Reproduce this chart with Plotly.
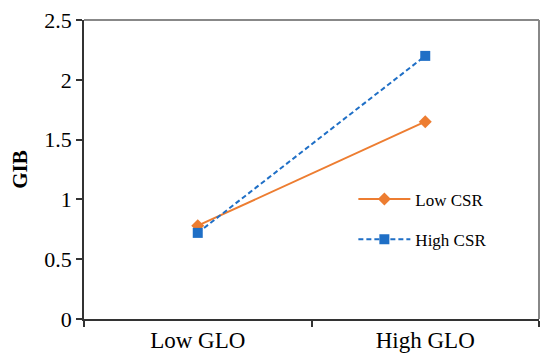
import plotly.graph_objects as go

categories = ["Low GLO", "High GLO"]
low_csr = [0.78, 1.65]
high_csr = [0.72, 2.2]
y_ticks = [0, 0.5, 1, 1.5, 2, 2.5]
y_ticktext = ["0", "0.5", "1", "1.5", "2", "2.5"]

FONT = "'Liberation Serif', 'Times New Roman', serif"
ORANGE = "#ED7D31"
BLUE = "#1F6FC6"

fig = go.Figure()
fig.add_trace(go.Scatter(
    x=categories, y=low_csr, name="Low CSR", mode="lines+markers",
    line=dict(color=ORANGE, width=2),
    marker=dict(symbol="diamond", size=10, color=ORANGE),
    legend="legend",
))
fig.add_trace(go.Scatter(
    x=categories, y=high_csr, name="High CSR", mode="lines+markers",
    line=dict(color=BLUE, width=2, dash="5px,3px"),
    marker=dict(symbol="square", size=10, color=BLUE),
    legend="legend2",
))

legend_common = dict(
    xanchor="left", yanchor="middle",
    bgcolor="rgba(0,0,0,0)", borderwidth=0,
    font=dict(family=FONT, size=17, color="black"),
    itemwidth=52,
)

fig.update_layout(
    width=550, height=363,
    margin=dict(l=76, r=19, t=12, b=52),
    plot_bgcolor="white", paper_bgcolor="white",
    font=dict(family=FONT, size=20, color="black"),
    showlegend=True,
    legend=dict(x=0.592, y=0.40, **legend_common),
    legend2=dict(x=0.592, y=0.265, **legend_common),
    xaxis=dict(
        type="category", range=[-0.5, 1.5], tickson="boundaries",
        ticks="outside", ticklen=6, tickcolor="#333333", tickwidth=1.5,
        showline=True, linecolor="#333333", linewidth=1.5, mirror=False,
        showgrid=False, zeroline=False, automargin=False,
        ticklabeloverflow="allow",
        tickfont=dict(family=FONT, size=23, color="black"),
    ),
    yaxis=dict(
        range=[0, 2.5], tickvals=y_ticks, ticktext=y_ticktext,
        ticks="outside", ticklen=6, tickcolor="#333333", tickwidth=1.5,
        showline=True, linecolor="#333333", linewidth=1.5, mirror=False,
        showgrid=False, zeroline=False, automargin=False,
        ticklabeloverflow="allow",
        tickfont=dict(family=FONT, size=22, color="black"),
        title=dict(text="<b>GIB</b>", font=dict(family=FONT, size=21, color="black"), standoff=20),
    ),
    shapes=[
        dict(type="line", xref="paper", yref="paper", x0=0, x1=1, y0=1, y1=1,
             line=dict(color="#888888", width=2)),
        dict(type="line", xref="paper", yref="paper", x0=1, x1=1, y0=0, y1=1,
             line=dict(color="#888888", width=2)),
    ],
)

fig.write_html("out.html")
